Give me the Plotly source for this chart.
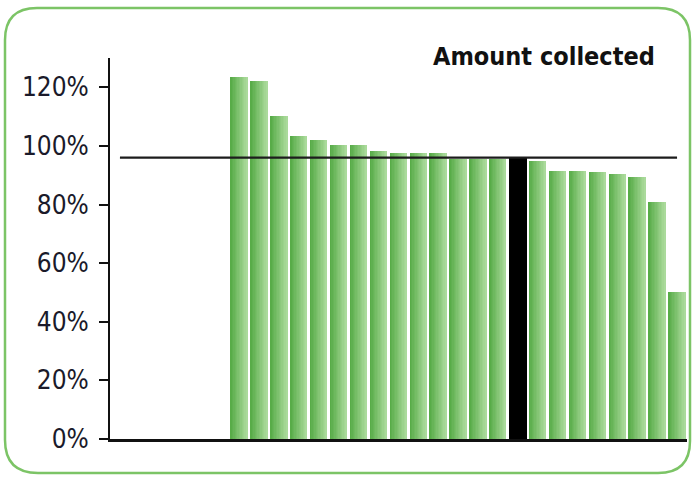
import plotly.graph_objects as go

# Collection rate per unit (percent); the first slots on the axis are empty
units = [f"U{i:02d}" for i in range(1, 30)]
collected_pct = [None, None, None, None, None, None,
                 123.6, 122.3, 110.3, 103.5, 102.0, 100.3, 100.3, 98.4,
                 97.5, 97.5, 97.5, 95.4, 95.4, 95.4, 96.0, 95.0,
                 91.6, 91.6, 91.2, 90.4, 89.5, 81.0, 50.3]
highlight_unit = "U21"
target_pct = 96.0
y_ticks = [0, 20, 40, 60, 80, 100, 120]
y_tick_labels = [f"{v}%" for v in y_ticks]
title_text = "Amount collected"

FONT = "DejaVu Sans Condensed, DejaVu Sans, sans-serif"

# Split the series into ordinary bars and the highlighted one
green_vals = [None if u == highlight_unit else v for u, v in zip(units, collected_pct)]
black_vals = [v if u == highlight_unit else None for u, v in zip(units, collected_pct)]

fig = go.Figure()

# Horizontal gradient on the green bars: narrow overlaid strips, dark to light
bar_w = 0.84
n_strips = 12
dark = (88, 172, 72)
light = (170, 218, 155)
for j in range(n_strips):
    t = j / (n_strips - 1)
    col = tuple(round(dark[k] + (light[k] - dark[k]) * t) for k in range(3))
    fig.add_trace(go.Bar(
        x=units, y=green_vals,
        width=bar_w / n_strips + 0.004,
        offset=-bar_w / 2 + j * bar_w / n_strips,
        marker=dict(color=f"rgb{col}", line=dict(width=0)),
        hoverinfo="skip", showlegend=False,
    ))

fig.add_trace(go.Bar(
    x=units, y=black_vals, width=0.89,
    marker=dict(color="#000000", line=dict(width=0)),
    showlegend=False,
))

# Target line across the chart
fig.add_trace(go.Scatter(
    x=[units[0], units[-1]], y=[target_pct, target_pct],
    mode="lines", line=dict(color="#1c1c1c", width=2.4),
    hoverinfo="skip", showlegend=False,
))

fig.update_layout(
    width=692, height=479,
    margin=dict(l=110, r=5, t=58, b=40),
    paper_bgcolor="white", plot_bgcolor="white",
    barmode="overlay", bargap=0,
    font=dict(family=FONT, color="#1a1a1a"),
    xaxis=dict(
        type="category", categoryorder="array", categoryarray=units,
        range=[-0.5, len(units) - 0.5],
        showticklabels=False, ticks="", showgrid=False, zeroline=False,
        showline=True, linecolor="#111111", linewidth=2.5,
    ),
    yaxis=dict(
        range=[0, 130], tickmode="array", tickvals=y_ticks, ticktext=y_tick_labels,
        ticks="outside", ticklen=9, tickwidth=2, tickcolor="#111111",
        showline=True, linecolor="#111111", linewidth=2,
        showgrid=False, zeroline=False,
        tickfont=dict(size=26, color="#1a1a2a", family=FONT),
        ticklabelstandoff=5,
    ),
    annotations=[dict(
        text=f"<b>{title_text}</b>", xref="paper", yref="paper",
        x=0.948, y=1.003, xanchor="right", yanchor="middle",
        showarrow=False,
        font=dict(size=25, color="#111111", family=FONT),
    )],
    shapes=[dict(
        type="path", xref="paper", yref="paper",
        xsizemode="pixel", ysizemode="pixel", xanchor=0, yanchor=0,
        path=("M -105,399 L -105,-1 Q -105,-34 -72,-34 L 548,-34 "
              "Q 580,-34 580,-2 L 580,399 Q 580,431 548,431 "
              "L -73,431 Q -105,431 -105,399 Z"),
        line=dict(color="#7cc466", width=2.5),
        layer="below",
    )],
)

fig.write_html("out.html")
